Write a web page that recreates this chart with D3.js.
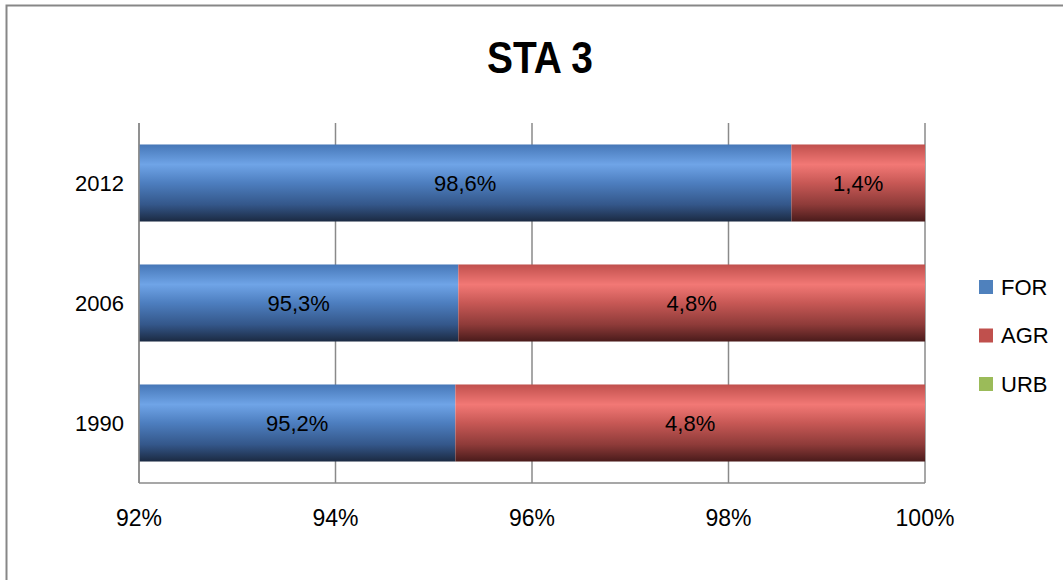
<!DOCTYPE html>
<html>
<head>
<meta charset="utf-8">
<script src="https://cdn.jsdelivr.net/npm/d3@7"></script>
<style>
  html, body { margin: 0; padding: 0; background: #fff; }
  svg { display: block; }
  text { font-family: "Liberation Sans", Arial, sans-serif; }
</style>
</head>
<body>
<svg id="chart" width="1063" height="580"></svg>
<script>
// ---- data ----
const title = "STA 3";
const categories = ["2012", "2006", "1990"];
const seriesNames = ["FOR", "AGR", "URB"];
const forValues = [98.64, 95.25, 95.22];
const agrValues = [1.36, 4.75, 4.78];
const urbValues = [0, 0, 0];
const xTicks = [92, 94, 96, 98, 100];
const xDomain = [92, 100];

// ---- layout ----
const plot = { left: 139, right: 925, top: 123, bottom: 483 };
const colors = { FOR: "#4f81bd", AGR: "#c0504d", URB: "#9bbb59" };

const svg = d3.select("#chart");

// frame
svg.append("rect")
  .attr("x", 6.5).attr("y", 5.5)
  .attr("width", 1080).attr("height", 600)
  .attr("fill", "#fff").attr("stroke", "#878787").attr("stroke-width", 2);

// gradients
const defs = svg.append("defs");
function grad(id, stops) {
  const g = defs.append("linearGradient").attr("id", id)
    .attr("x1", 0).attr("y1", 0).attr("x2", 0).attr("y2", 1);
  stops.forEach(s => g.append("stop").attr("offset", s[0]).attr("stop-color", s[1]));
}
grad("g-FOR", [[0, "#4677b7"], [0.26, "#6fa4e7"], [0.5, "#4d7ebf"], [0.78, "#34578a"], [1, "#1b2a42"]]);
grad("g-AGR", [[0, "#c0504d"], [0.26, "#f27875"], [0.5, "#c75855"], [0.78, "#8e3b39"], [1, "#4a1b1b"]]);
grad("g-URB", [[0, "#9bbb59"], [0.26, "#c3e383"], [0.5, "#9cbc5a"], [0.78, "#6b833c"], [1, "#3c4a20"]]);

// scales
const x = d3.scaleLinear().domain(xDomain).range([plot.left, plot.right]);
const y = d3.scaleBand().domain(categories).range([plot.top, plot.bottom])
  .paddingInner(0.358).paddingOuter(0.179);

// title
svg.append("text")
  .attr("x", 540).attr("y", 73)
  .attr("text-anchor", "middle")
  .attr("font-size", 44).attr("font-weight", "bold")
  .attr("textLength", 106).attr("lengthAdjust", "spacingAndGlyphs")
  .attr("fill", "#000")
  .text(title);

// gridlines
svg.append("g").selectAll("line").data(xTicks).join("line")
  .attr("x1", d => x(d)).attr("x2", d => x(d))
  .attr("y1", plot.top).attr("y2", plot.bottom)
  .attr("stroke", "#8a8a8a").attr("stroke-width", 1.5);

// stacked data
const rows = categories.map((c, i) => ({ cat: c, FOR: forValues[i], AGR: agrValues[i], URB: urbValues[i] }));
const stack = d3.stack().keys(seriesNames)(rows);

const fmt = v => v.toFixed(1).replace(".", ",") + "%";

stack.forEach(layer => {
  const key = layer.key;
  const g = svg.append("g");
  // stacked values are absolute percentages; segments are clipped to the axis domain
  const data = layer.map(s => ({
    cat: s.data.cat,
    v: s.data[key],
    lo: Math.max(s[0], xDomain[0]),
    hi: Math.min(s[1], xDomain[1])
  })).filter(d => d.v > 0 && d.hi > d.lo);

  g.selectAll("rect").data(data).join("rect")
    .attr("x", d => x(d.lo))
    .attr("width", d => x(d.hi) - x(d.lo))
    .attr("y", d => y(d.cat))
    .attr("height", y.bandwidth())
    .attr("fill", `url(#g-${key})`);

  g.selectAll("text").data(data).join("text")
    .attr("x", d => (x(d.lo) + x(d.hi)) / 2)
    .attr("y", d => y(d.cat) + y.bandwidth() / 2)
    .attr("dy", "0.36em")
    .attr("text-anchor", "middle")
    .attr("font-size", 22)
    .attr("fill", "#000")
    .text(d => fmt(d.v));
});

// axis lines
svg.append("line")
  .attr("x1", plot.left).attr("x2", plot.left)
  .attr("y1", plot.top).attr("y2", plot.bottom)
  .attr("stroke", "#8a8a8a").attr("stroke-width", 1.5);
svg.append("line")
  .attr("x1", plot.left).attr("x2", plot.right)
  .attr("y1", plot.bottom).attr("y2", plot.bottom)
  .attr("stroke", "#8a8a8a").attr("stroke-width", 1.5);

// x tick labels
svg.append("g").selectAll("text").data(xTicks).join("text")
  .attr("x", d => x(d)).attr("y", 518).attr("dy", "0.36em")
  .attr("text-anchor", "middle").attr("font-size", 23).attr("fill", "#000")
  .text(d => d + "%");

// category labels
svg.append("g").selectAll("text").data(categories).join("text")
  .attr("x", 124).attr("y", d => y(d) + y.bandwidth() / 2).attr("dy", "0.36em")
  .attr("text-anchor", "end").attr("font-size", 22).attr("fill", "#000")
  .text(d => d);

// legend
const legend = svg.append("g");
seriesNames.forEach((s, i) => {
  const cy = 287 + i * 48.5;
  legend.append("rect").attr("x", 979).attr("y", cy - 7).attr("width", 14).attr("height", 14)
    .attr("fill", colors[s]);
  legend.append("text").attr("x", 1001).attr("y", cy).attr("dy", "0.36em")
    .attr("font-size", 22).attr("fill", "#000").text(s);
});
</script>
</body>
</html>
